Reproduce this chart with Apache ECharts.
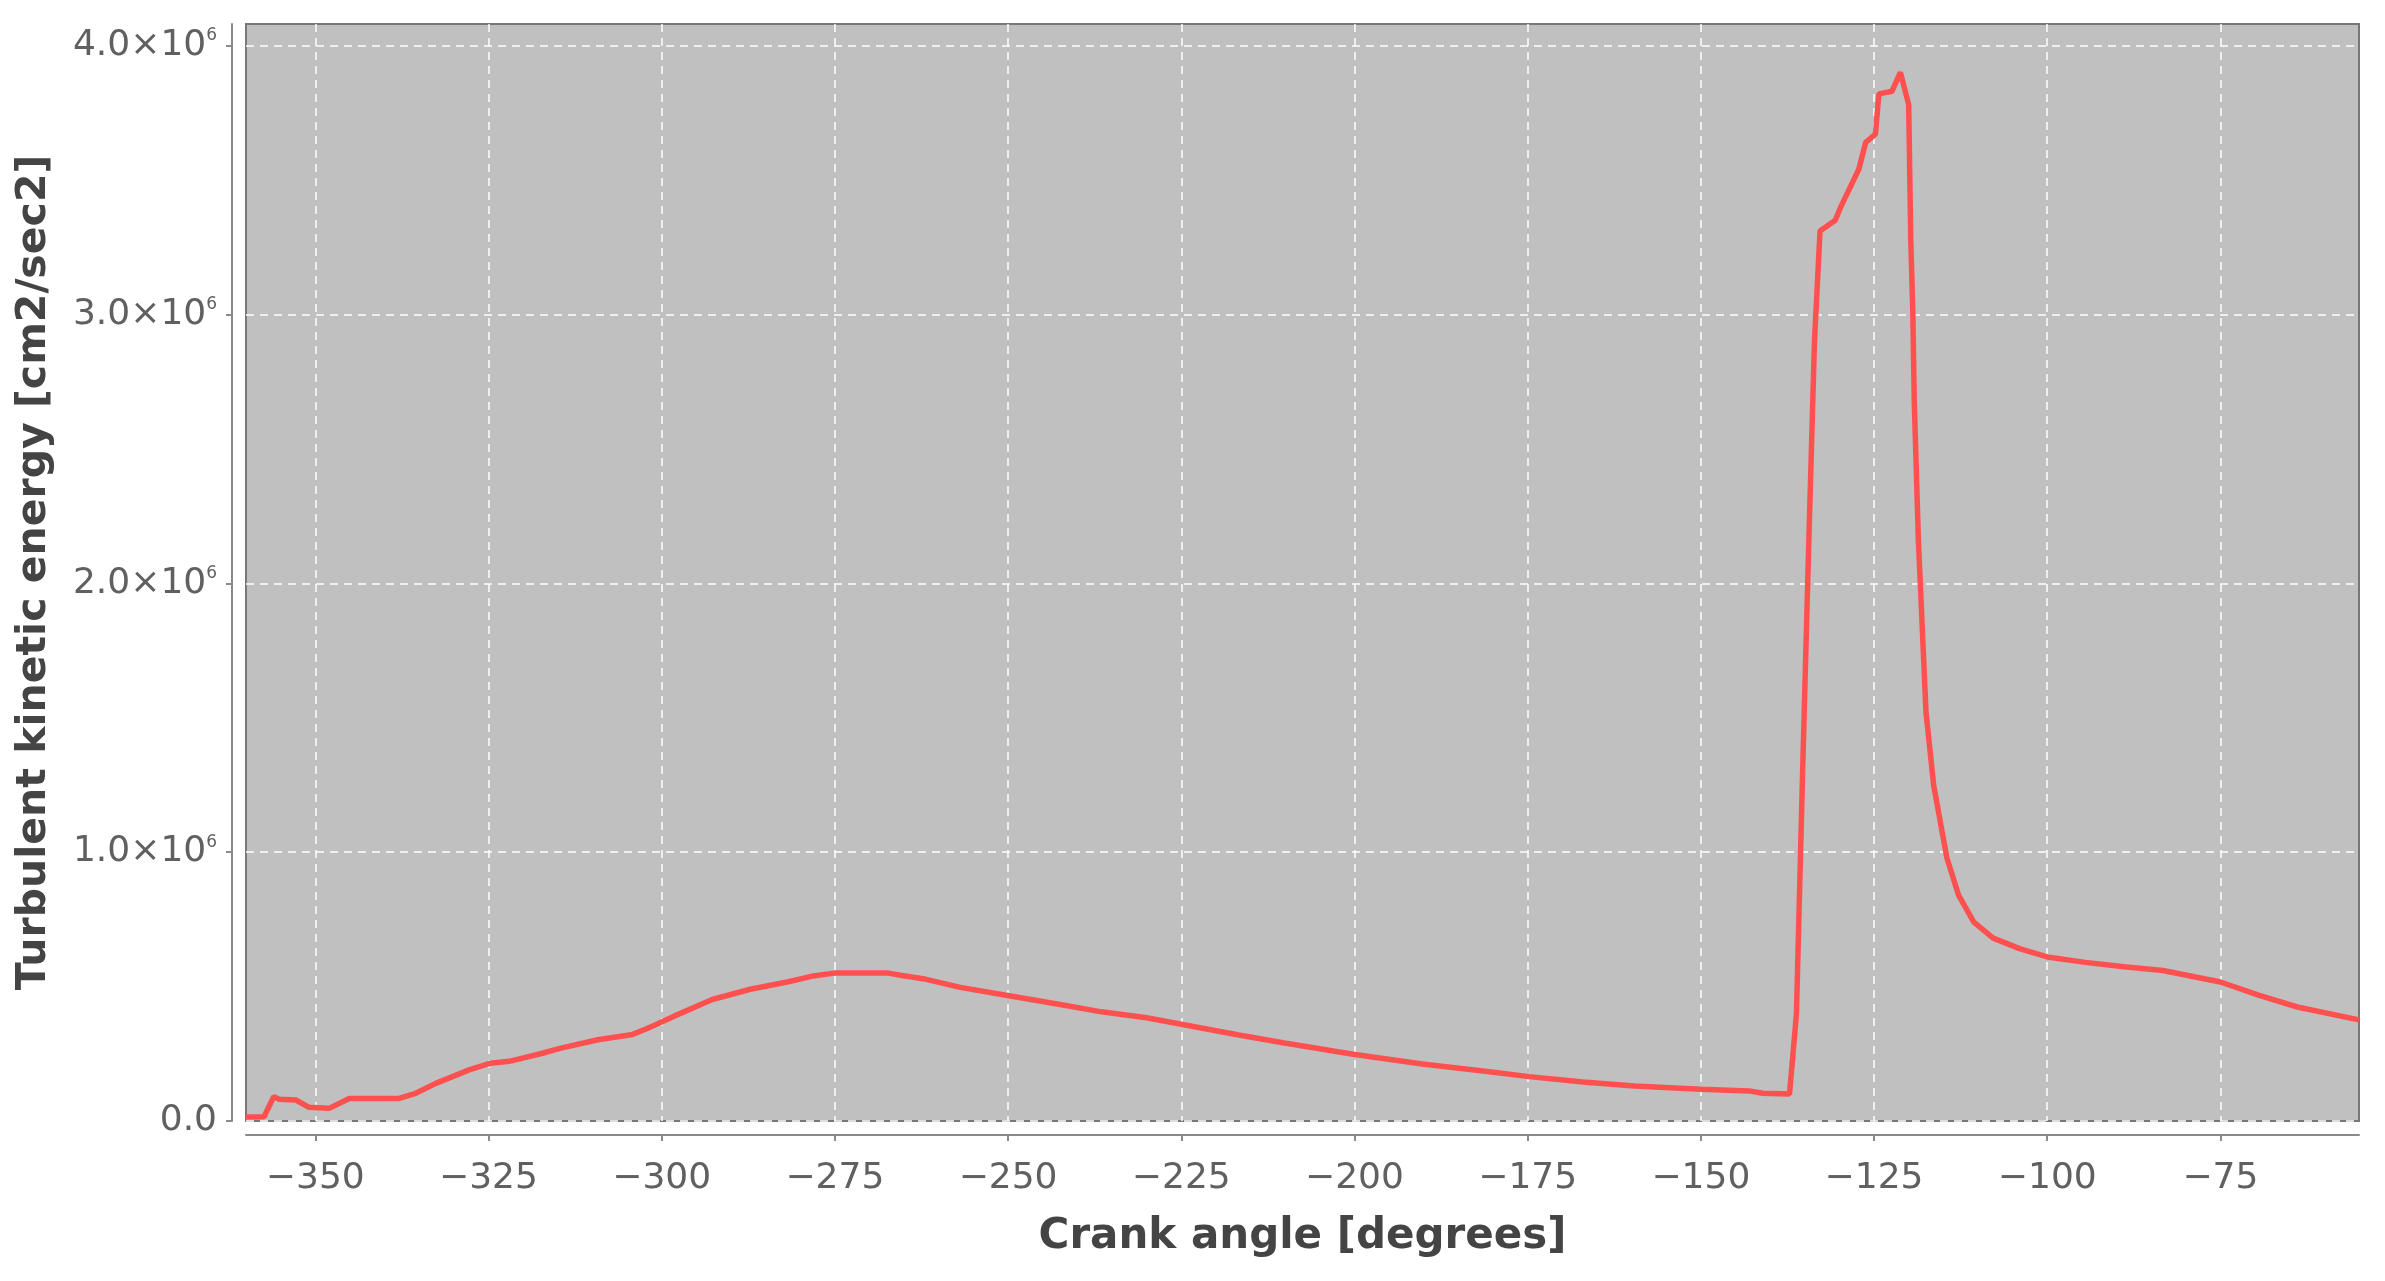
<!DOCTYPE html>
<html>
<head>
<meta charset="utf-8">
<script src="https://cdn.jsdelivr.net/npm/echarts@6/dist/echarts.min.js"></script>
<style>
html,body{margin:0;padding:0;background:#fff;}
#chart{width:2385px;height:1281px;}
</style>
</head>
<body>
<div id="chart"></div>
<script>
// Crank angle [degrees]
const crankAngle = [
  -360, -357.4, -356.0, -355.2, -352.8, -350.9, -348.0, -345.1, -337.9, -335.5,
  -332.6, -327.8, -324.7, -322.0, -317.2, -314.7, -309.2, -304.2, -302.0, -298.2,
  -292.7, -287.2, -281.7, -278.4, -275.1, -267.3, -265.1, -261.8, -256.9, -250.3,
  -243.1, -236.5, -230.0, -225.0, -216.7, -210.1, -200.2, -190.2, -180.2, -174.8,
  -167.0, -159.6, -150.0, -143.0, -141.1, -137.2, -136.2, -135.3, -134.4, -133.6,
  -132.8, -130.6, -129.8, -127.2, -126.2, -124.8, -124.3, -122.4, -121.2, -120.0,
  -119.7, -119.4, -119.2, -118.6, -117.5, -116.4, -114.5, -112.8, -110.6, -107.8,
  -103.9, -100.0, -94.5, -88.9, -83.3, -75.0, -69.4, -63.9, -55.0
];
// Turbulent kinetic energy [cm2/sec2]
const tke = [
  15000, 16000, 90000, 81000, 78000, 51000, 47000, 84000, 84000, 103000,
  140000, 190000, 215000, 222000, 252000, 270000, 302000, 322000, 345000, 390000,
  452000, 490000, 518000, 538000, 550000, 550000, 540000, 527000, 497000, 468000,
  436000, 406000, 384000, 360000, 320000, 290000, 248000, 212000, 182000, 165000,
  145000, 130000, 118000, 112000, 103000, 100000, 400000, 1310000, 2170000, 2900000,
  3310000, 3350000, 3400000, 3540000, 3640000, 3670000, 3820000, 3830000, 3900000, 3780000,
  3280000, 3000000, 2680000, 2160000, 1520000, 1250000, 980000, 840000, 740000, 680000,
  640000, 610000, 590000, 574000, 560000, 517000, 467000, 424000, 376000
];
const xTicks = [-350, -325, -300, -275, -250, -225, -200, -175, -150, -125, -100, -75];
const yTicks = [0, 1000000, 2000000, 3000000, 4000000];

const seriesData = crankAngle.map((a, i) => [a, tke[i]]);

const chart = echarts.init(document.getElementById('chart'));
const gridLine = {show: true, lineStyle: {color: 'rgba(255,255,255,0.75)', width: 2, type: [8, 6]}};
const tickFont = {fontFamily: 'DejaVu Sans', fontSize: 36, color: '#606060'};
chart.setOption({
  animation: false,
  backgroundColor: '#ffffff',
  grid: {
    left: 246, right: 26, top: 24, bottom: 160,
    show: true, backgroundColor: '#c0c0c0', borderColor: '#777777', borderWidth: 2
  },
  xAxis: {
    type: 'value', min: -360, max: -55, offset: 14,
    name: 'Crank angle [degrees]', nameLocation: 'middle', nameGap: 81,
    nameTextStyle: {fontFamily: 'DejaVu Sans', fontWeight: 'bold', fontSize: 42, color: '#444444'},
    axisLine: {show: true, onZero: false, lineStyle: {color: '#8a8a8a', width: 2}},
    axisTick: {show: true, length: 6, lineStyle: {color: '#8a8a8a', width: 2}, customValues: xTicks},
    axisLabel: Object.assign({
      customValues: xTicks, margin: 26,
      formatter: v => String(v).replace('-', '\u2212')
    }, tickFont),
    splitLine: gridLine
  },
  yAxis: {
    type: 'value', min: 0, max: 4080000, offset: 14,
    name: 'Turbulent kinetic energy [cm2/sec2]', nameLocation: 'middle', nameGap: 177,
    nameTextStyle: {fontFamily: 'DejaVu Sans', fontWeight: 'bold', fontSize: 41, color: '#444444'},
    axisLine: {show: true, lineStyle: {color: '#8a8a8a', width: 2}},
    axisTick: {show: true, length: 6, lineStyle: {color: '#8a8a8a', width: 2}, customValues: yTicks},
    axisLabel: {
      customValues: yTicks, margin: 15,
      formatter: v => v === 0 ? '{m|0.0}' : '{m|' + (v / 1e6).toFixed(1) + '\u00d710}{s|6}',
      rich: {
        m: tickFont,
        s: {fontFamily: 'DejaVu Sans', fontSize: 17, color: '#606060', verticalAlign: 'top', padding: [0, 0, 20, 0]}
      }
    },
    splitLine: gridLine
  },
  series: [{
    type: 'line',
    data: seriesData,
    showSymbol: false,
    clip: true,
    lineStyle: {color: '#ff5050', width: 5.5},
    itemStyle: {color: '#ff5050'}
  }]
});
</script>
</body>
</html>
